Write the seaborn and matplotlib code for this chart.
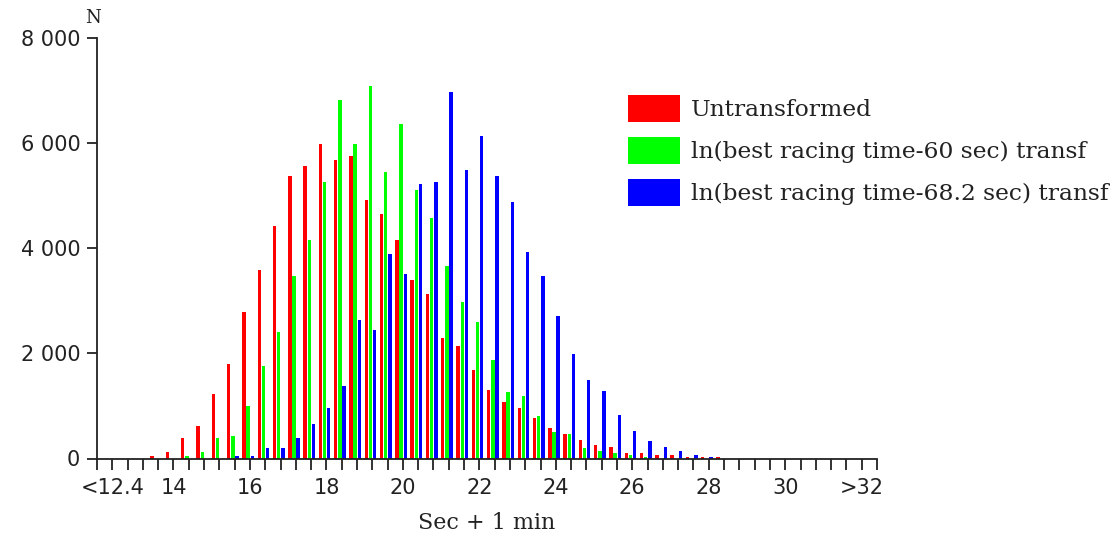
import matplotlib
matplotlib.use("Agg")
import matplotlib.pyplot as plt
import seaborn as sns
import pandas as pd

# ---- data ----
bins = [12.0, 12.4, 12.8, 13.2, 13.6, 14.0, 14.4, 14.8, 15.2, 15.6,
        16.0, 16.4, 16.8, 17.2, 17.6, 18.0, 18.4, 18.8, 19.2, 19.6,
        20.0, 20.4, 20.8, 21.2, 21.6, 22.0, 22.4, 22.8, 23.2, 23.6,
        24.0, 24.4, 24.8, 25.2, 25.6, 26.0, 26.4, 26.8, 27.2, 27.6,
        28.0, 28.4, 28.8, 29.2, 29.6, 30.0, 30.4, 30.8, 31.2, 31.6,
        32.0, 32.4]

untransformed = [0, 0, 0, 0, 45, 120, 390, 620, 1220, 1800,
                 2790, 3580, 4420, 5370, 5560, 5980, 5680, 5750, 4920, 4650,
                 4160, 3390, 3130, 2290, 2140, 1680, 1300, 1070, 960, 770,
                 580, 460, 350, 260, 220, 110, 110, 70, 70, 30,
                 30, 30, 0, 0, 0, 0, 0, 0, 0, 0,
                 0, 0]

ln60 = [0, 0, 0, 0, 0, 0, 44, 120, 390, 425,
        1000, 1760, 2400, 3470, 4160, 5260, 6820, 5980, 7090, 5450,
        6360, 5110, 4570, 3660, 2980, 2600, 1870, 1260, 1190, 810,
        500, 460, 200, 150, 110, 70, 30, 0, 0, 0,
        0, 0, 0, 0, 0, 0, 0, 0, 0, 0,
        0, 0]

ln682 = [0, 0, 0, 0, 0, 0, 0, 0, 0, 44,
         44, 200, 200, 390, 650, 960, 1380, 2630, 2440, 3890,
         3510, 5220, 5260, 6970, 5490, 6140, 5370, 4880, 3930, 3470,
         2710, 1990, 1490, 1290, 830, 530, 340, 220, 150, 70,
         30, 0, 0, 0, 0, 0, 0, 0, 0, 0,
         0, 0]

series_names = ["Untransformed",
                "ln(best racing time-60 sec) transf",
                "ln(best racing time-68.2 sec) transf"]
series_colors = ["#FF0000", "#00FF00", "#0000FF"]

x_tick_labels = {12.4: "<12.4", 14.0: "14", 16.0: "16", 18.0: "18", 20.0: "20",
                 22.0: "22", 24.0: "24", 26.0: "26", 28.0: "28", 30.0: "30",
                 32.0: ">32"}
y_ticks = [0, 2000, 4000, 6000, 8000]

# ---- build long table ----
bin_labels = [f"{b:.1f}" for b in bins]
rows = []
for name, vals in zip(series_names, [untransformed, ln60, ln682]):
    for lab, v in zip(bin_labels, vals):
        rows.append({"bin": lab, "series": name, "N": v})
df = pd.DataFrame(rows)

# ---- plot ----
sns.set_theme(style="ticks")
plt.rcParams["font.family"] = ["DejaVu Sans"]

fig = plt.figure(figsize=(11.14, 5.36), dpi=100)
ax = fig.add_axes([97 / 1114, 1 - 458.5 / 536, (877 - 97) / 1114, (458.5 - 38) / 536])

sns.barplot(data=df, x="bin", y="N", hue="series", order=bin_labels,
            hue_order=series_names, palette=dict(zip(series_names, series_colors)),
            width=0.82, gap=0.18, linewidth=0, saturation=1, ax=ax)

shift = 0.12
ax.set_xlim(0 + shift, len(bins) - 1 + shift)
ax.set_ylim(0, 8000)

ax.set_xticks([i + shift for i in range(len(bins))], minor=True)
major_pos = [bins.index(b) + shift for b in x_tick_labels]
ax.set_xticks(major_pos)
ax.set_xticklabels(list(x_tick_labels.values()))
ax.set_yticks(y_ticks)
ax.set_yticklabels([f"{v:,}".replace(",", " ") for v in y_ticks])

for s in ["top", "right"]:
    ax.spines[s].set_visible(False)
for s in ["left", "bottom"]:
    ax.spines[s].set_color("#222222")
    ax.spines[s].set_linewidth(1.3)

ax.tick_params(axis="x", which="both", length=8, width=1.3, color="#222222",
               direction="out", labelsize=15, pad=6, labelcolor="#222222")
ax.tick_params(axis="y", which="major", length=7, width=1.3, color="#222222",
               direction="out", labelsize=15, pad=5, labelcolor="#222222")

ax.set_xlabel("Sec + 1 min", family="DejaVu Serif", fontsize=16, color="#222222",
              labelpad=10)
ax.set_ylabel("")
fig.text(93 / 1114, 1 - 18 / 536, "N", family="DejaVu Serif", fontsize=13,
         ha="center", va="center", color="#222222")

handles, labels = ax.get_legend_handles_labels()
fs = 16.8
fs_px = fs * 100 / 72
ax.legend(handles, labels, loc="upper left",
          bbox_to_anchor=(628 / 1114, 1 - 95 / 536), bbox_transform=fig.transFigure,
          frameon=False, borderpad=0, borderaxespad=0,
          prop={"family": "DejaVu Serif", "size": fs},
          handlelength=52 / fs_px, handleheight=32 / fs_px,
          labelspacing=15.5 / fs_px, handletextpad=11 / fs_px)
for t in ax.get_legend().get_texts():
    t.set_color("#222222")

fig.savefig("out.png", dpi=100)
